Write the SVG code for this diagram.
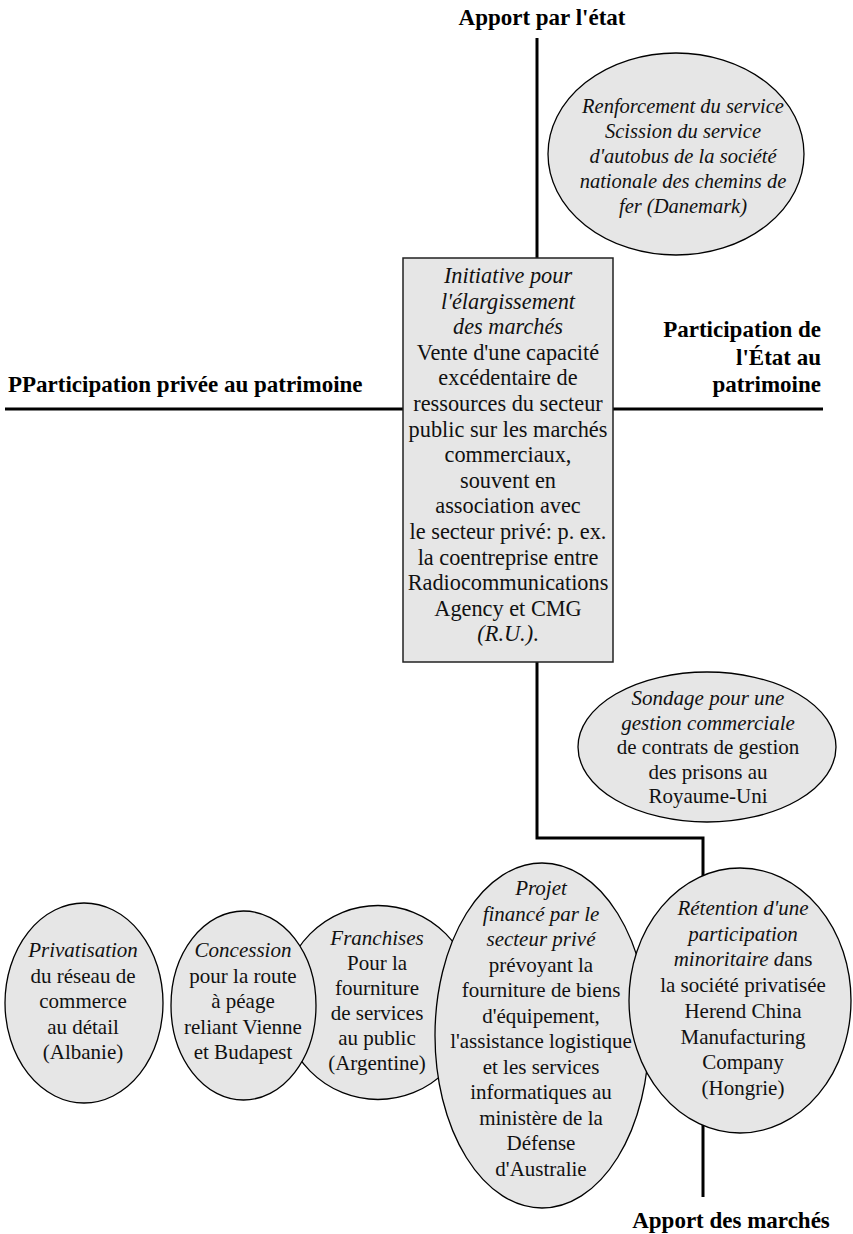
<svg xmlns="http://www.w3.org/2000/svg" width="853" height="1234" viewBox="0 0 853 1234">
<style>
text{font-family:'Liberation Serif','Times New Roman',serif}
.lbl{font-weight:bold;font-size:23px;fill:#000}
.t{font-size:21px;text-anchor:middle;fill:#111}
.b{font-size:22.3px}
.s{font-size:20.5px}
.i{font-style:italic}
.axis{stroke:#000;stroke-width:3;fill:none}
.shape{fill:#e6e6e6;stroke:#000;stroke-width:1.3}
.box{fill:#e6e6e6;stroke:#222;stroke-width:1.5}
</style>
<rect width="853" height="1234" fill="#fff"/>
<g id="connectors">
<line class="axis" x1="537" y1="38" x2="537" y2="258"/>
<line class="axis" x1="5" y1="409" x2="403" y2="409"/>
<line class="axis" x1="613" y1="409" x2="823" y2="409"/>
<polyline class="axis" points="537,662 537,838 703,838 703,1197"/>
</g>
<g id="labels">
<text class="lbl" x="542" y="25" text-anchor="middle">Apport par l'état</text>
<text class="lbl" x="8" y="392">PParticipation privée au patrimoine</text>
<text class="lbl" x="821" y="337" text-anchor="end">Participation de</text>
<text class="lbl" x="821" y="365" text-anchor="end">l'État au</text>
<text class="lbl" x="821" y="392" text-anchor="end">patrimoine</text>
<text class="lbl" x="731" y="1228" text-anchor="middle">Apport des marchés</text>
</g>
<g id="renforcement">
<ellipse class="shape" cx="676" cy="154" rx="128" ry="101"/>
<text class="t s i" x="683" y="113">Renforcement du service</text>
<text class="t s i" x="683" y="138">Scission du service</text>
<text class="t s i" x="683" y="163">d'autobus de la société</text>
<text class="t s i" x="683" y="188">nationale des chemins de</text>
<text class="t s i" x="683" y="213">fer (Danemark)</text>
</g>
<g id="initiative">
<rect class="box" x="403" y="258" width="210" height="404"/>
<text class="t b i" x="508" y="283">Initiative pour</text>
<text class="t b i" x="508" y="308.6">l'élargissement</text>
<text class="t b i" x="508" y="334.2">des marchés</text>
<text class="t b" x="508" y="359.8">Vente d'une capacité</text>
<text class="t b" x="508" y="385.4">excédentaire de</text>
<text class="t b" x="508" y="411">ressources du secteur</text>
<text class="t b" x="508" y="436.6">public sur les marchés</text>
<text class="t b" x="508" y="462.2">commerciaux,</text>
<text class="t b" x="508" y="487.8">souvent en</text>
<text class="t b" x="508" y="513.4">association avec</text>
<text class="t b" x="508" y="539">le secteur privé: p. ex.</text>
<text class="t b" x="508" y="564.6">la coentreprise entre</text>
<text class="t b" x="508" y="590.2">Radiocommunications</text>
<text class="t b" x="508" y="615.8">Agency et CMG</text>
<text class="t b" x="508" y="641.4"><tspan class="i">(R.U.)</tspan>.</text>
</g>
<g id="sondage">
<ellipse class="shape" cx="707" cy="747" rx="129" ry="75"/>
<text class="t i" x="708" y="705">Sondage pour une</text>
<text class="t i" x="708" y="729.5">gestion commerciale</text>
<text class="t" x="708" y="754">de contrats de gestion</text>
<text class="t" x="708" y="778.5">des prisons au</text>
<text class="t" x="708" y="803">Royaume-Uni</text>
</g>
<g id="franchises">
<ellipse class="shape" cx="378" cy="1002.5" rx="96" ry="97"/>
<text class="t i" x="377" y="945">Franchises</text>
<text class="t" x="377" y="970">Pour la</text>
<text class="t" x="377" y="995">fourniture</text>
<text class="t" x="377" y="1020">de services</text>
<text class="t" x="377" y="1045">au public</text>
<text class="t" x="377" y="1070">(Argentine)</text>
</g>
<g id="concession">
<ellipse class="shape" cx="243.5" cy="1005.5" rx="72.5" ry="94.5"/>
<text class="t i" x="243" y="957">Concession</text>
<text class="t" x="243" y="982.5">pour la route</text>
<text class="t" x="243" y="1008">à péage</text>
<text class="t" x="243" y="1033.5">reliant Vienne</text>
<text class="t" x="243" y="1059">et Budapest</text>
</g>
<g id="privatisation">
<ellipse class="shape" cx="84" cy="1003" rx="79" ry="100"/>
<text class="t i" x="83" y="957">Privatisation</text>
<text class="t" x="83" y="982.5">du réseau de</text>
<text class="t" x="83" y="1008">commerce</text>
<text class="t" x="83" y="1033.5">au détail</text>
<text class="t" x="83" y="1059">(Albanie)</text>
</g>
<g id="projet">
<ellipse class="shape" cx="542" cy="1035.5" rx="107" ry="172.5"/>
<text class="t i" x="541" y="895">Projet</text>
<text class="t i" x="541" y="920.5">financé par le</text>
<text class="t i" x="541" y="946">secteur privé</text>
<text class="t" x="541" y="971.5">prévoyant la</text>
<text class="t" x="541" y="997">fourniture de biens</text>
<text class="t" x="541" y="1022.5">d'équipement,</text>
<text class="t" x="541" y="1048">l'assistance logistique</text>
<text class="t" x="541" y="1073.5">et les services</text>
<text class="t" x="541" y="1099">informatiques au</text>
<text class="t" x="541" y="1124.5">ministère de la</text>
<text class="t" x="541" y="1150">Défense</text>
<text class="t" x="541" y="1175.5">d'Australie</text>
</g>
<g id="retention">
<ellipse class="shape" cx="740" cy="1000.5" rx="111" ry="132.5"/>
<text class="t i" x="743" y="915">Rétention d'une</text>
<text class="t i" x="743" y="940.7">participation</text>
<text class="t" x="743" y="966.4"><tspan class="i">minoritaire d</tspan>ans</text>
<text class="t" x="743" y="992.1">la société privatisée</text>
<text class="t" x="743" y="1017.8">Herend China</text>
<text class="t" x="743" y="1043.5">Manufacturing</text>
<text class="t" x="743" y="1069.2">Company</text>
<text class="t" x="743" y="1094.9">(Hongrie)</text>
</g>
</svg>
